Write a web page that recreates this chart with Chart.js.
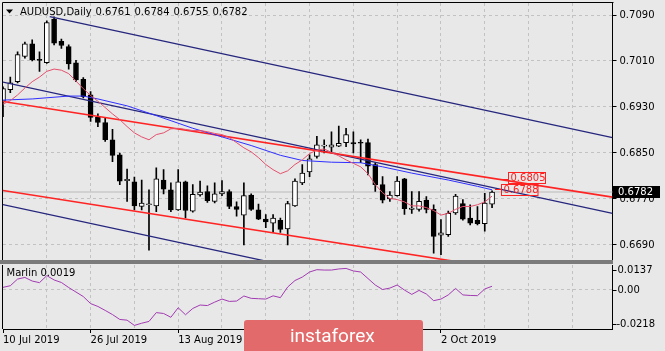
<!DOCTYPE html>
<html><head><meta charset="utf-8">
<script src="https://cdn.jsdelivr.net/npm/chart.js@4.4.1/dist/chart.umd.min.js"></script>
<style>
html,body{margin:0;padding:0;background:#e8e8e8;width:665px;height:351px;overflow:hidden;}
canvas{position:absolute;left:0;}
#main{top:0;}
#sub{top:262px;}
#sep{position:absolute;left:0;top:260px;width:613px;height:4px;background:#7b7b7b;}
#wm{position:absolute;left:244px;top:320px;width:179px;height:31px;background:#e36a6a;border-radius:3px 3px 0 0;overflow:hidden;}
#wmt{position:absolute;left:46px;top:0;line-height:31px;font-family:Roboto,'Open Sans',sans-serif;font-size:19px;color:#fff;}
</style></head><body>
<canvas id="main" width="665" height="262"></canvas>
<canvas id="sub" width="665" height="89"></canvas>
<div id="sep"></div>
<div id="wm"><span id="wmt">instaforex</span></div>
<script>
const FONT = "'DejaVu Sans', Verdana, sans-serif";
const symbolText = 'AUDUSD,Daily';
// daily candles, bar index 0 = 10 Jul 2019 ... 67 = 11 Oct 2019
const opens = [0.6940,0.6960,0.6974,0.7018,0.7040,0.7013,0.7007,0.7083,0.7044,0.7035,
0.7007,0.6978,0.6951,0.6912,0.6903,0.6873,0.6847,0.6802,0.6800,0.6757,
0.6760,0.6758,0.6803,0.6786,0.6751,0.6800,0.6749,0.6777,0.6783,0.6766,
0.6779,0.6783,0.6757,0.6742,0.6777,0.6751,0.6735,0.6728,0.6733,0.6718,
0.6758,0.6798,0.6817,0.6844,0.6862,0.6860,0.6862,0.6868,0.6868,0.6868,
0.6868,0.6830,0.6795,0.6770,0.6776,0.6805,0.6752,0.6752,0.6768,0.6752,
0.6707,0.6708,0.6746,0.6762,0.6737,0.6733,0.6727,0.6761];
const highs = [0.6965,0.6982,0.7026,0.7043,0.7047,0.7026,0.7080,0.7087,0.7048,0.7038,
0.7011,0.6981,0.6957,0.6918,0.6911,0.6891,0.6850,0.6822,0.6808,0.6803,
0.6786,0.6824,0.6821,0.6798,0.6821,0.6801,0.6795,0.6801,0.6793,0.6798,
0.6802,0.6786,0.6765,0.6798,0.6779,0.6761,0.6743,0.6743,0.6737,0.6766,
0.6805,0.6830,0.6847,0.6879,0.6873,0.6887,0.6897,0.6893,0.6887,0.6873,
0.6874,0.6833,0.6809,0.6783,0.6809,0.6806,0.6783,0.6783,0.6774,0.6760,
0.6734,0.6749,0.6778,0.6769,0.6760,0.6757,0.6780,0.6784];
const lows = [0.6913,0.6955,0.6972,0.7015,0.7010,0.6992,0.7006,0.7038,0.7032,0.6996,
0.6974,0.6946,0.6905,0.6896,0.6870,0.6835,0.6795,0.6766,0.6751,0.6751,
0.6681,0.6748,0.6779,0.6748,0.6750,0.6737,0.6747,0.6775,0.6764,0.6763,
0.6776,0.6753,0.6740,0.6690,0.6750,0.6734,0.6720,0.6712,0.6712,0.6690,
0.6757,0.6795,0.6809,0.6841,0.6850,0.6850,0.6861,0.6861,0.6850,0.6833,
0.6812,0.6783,0.6763,0.6766,0.6775,0.6743,0.6745,0.6749,0.6746,0.6676,
0.6673,0.6705,0.6743,0.6733,0.6725,0.6725,0.6714,0.6755];
const closes = [0.6962,0.6972,0.7021,0.7040,0.7012,0.7011,0.7077,0.7041,0.7037,0.7005,
0.6977,0.6948,0.6912,0.6903,0.6873,0.6846,0.6801,0.6804,0.6758,0.6763,
0.6761,0.6805,0.6787,0.6751,0.6800,0.6750,0.6778,0.6782,0.6767,0.6779,
0.6783,0.6757,0.6752,0.6776,0.6752,0.6735,0.6730,0.6737,0.6717,0.6762,
0.6801,0.6815,0.6840,0.6864,0.6863,0.6864,0.6867,0.6882,0.6866,0.6867,
0.6827,0.6795,0.6768,0.6777,0.6801,0.6753,0.6754,0.6766,0.6752,0.6705,
0.6711,0.6745,0.6775,0.6735,0.6728,0.6727,0.6763,0.6782];
// fast moving average (pink)
const pinkMA = [0.6935,0.6941,0.6951,0.6963,0.6974,0.6982,0.6992,0.6996,0.6994,0.6988,
0.6975,0.6962,0.6950,0.6940,0.6929,0.6918,0.6908,0.6896,0.6885,0.6878,
0.6873,0.6882,0.6885,0.6892,0.6893,0.6891,0.6889,0.6889,0.6887,0.6884,
0.6882,0.6877,0.6868,0.6859,0.6852,0.6842,0.6830,0.6821,0.6814,0.6819,
0.6830,0.6838,0.6849,0.6855,0.6857,0.6851,0.6845,0.6838,0.6832,0.6826,
0.6814,0.6795,0.6781,0.6771,0.6769,0.6765,0.6758,0.6758,0.6755,0.6750,
0.6742,0.6745,0.6752,0.6757,0.6757,0.6760,0.6765,0.6775];
// slow moving average (blue), read at these bars
const blueIdx = [0,4,9,11,13,17,21,26,30,34,38,41,45,49,52,56,61,65,67];
const blueMA  = [0.6942,0.6944,0.6949,0.6949,0.6944,0.6932,0.6915,0.6893,0.6878,0.6863,0.6846,0.6837,0.6834,0.6833,0.6826,0.6815,0.6803,0.6792,0.6786];
// Marlin oscillator
const marlin = [0.0013,0.0022,0.0059,0.0068,0.0048,0.0039,0.0078,0.0054,0.0040,0.0012,
-0.0013,-0.0038,-0.0077,-0.0093,-0.0115,-0.0138,-0.0165,-0.0169,-0.0198,-0.0186,
-0.0176,-0.0127,-0.0132,-0.0153,-0.0100,-0.0139,-0.0104,-0.0085,-0.0088,-0.0069,
-0.0052,-0.0065,-0.0063,-0.0035,-0.0048,-0.0050,-0.0052,-0.0034,-0.0044,0.0015,
0.0051,0.0070,0.0098,0.0111,0.0109,0.0109,0.0115,0.0118,0.0104,0.0098,
0.0062,0.0026,0.0001,0.0009,0.0026,-0.0002,-0.0026,-0.0004,-0.0024,-0.0061,
-0.0052,-0.0029,0.0007,-0.0029,-0.0032,-0.0033,0.0004,0.0019];
// trend lines: [barIndex, price] endpoints
const navyUpper = [[6.4,0.7087],[83.5,0.68766]];
const navyMid   = [[0,0.69733],[83.5,0.67451]];
const navyLower = [[0,0.67603],[83.5,0.65323]];
const redUpper  = [[0,0.69396],[83.5,0.67733]];
const redLower  = [[0,0.67848],[83.5,0.66185]];
const lineLabels = [0.6805, 0.6788];
// axes
const priceTicks = [0.6690,0.6770,0.6850,0.6930,0.7010,0.7090];
const priceMin = 0.666217, priceMax = 0.711087;
const oscMin = -0.0218, oscMax = 0.0137;
const oscTicks = [0.0137, 0, -0.0218];
const oscTickLabels = ['0.0137','0.00','-0.0218'];
const gridIdx = [0,6,12,18,24,30,36,42,48,54,60,66,72,78];
const labelIdx = [0,12,24,36,48,60];
const labelText = ['10 Jul 2019','26 Jul 2019','13 Aug 2019','29 Aug 2019','16 Sep 2019','2 Oct 2019'];
const X_MAX = 83.5;
const last = closes.length - 1;

const pts = a => a.map(p => ({x:p[0], y:p[1]}));
const lineDs = (data, color, width, order) => ({type:'line', data, borderColor:color, borderWidth:width, pointRadius:0, tension:0, fill:false, clip:0, order});
const GRID = '#c2c2c2';

const mainOverlay = {
  id:'mainOverlay',
  afterDraw(chart){
    const {ctx, chartArea:a} = chart; const xs = chart.scales.x, ys = chart.scales.y;
    ctx.save();
    // frame left/top
    ctx.strokeStyle='#000'; ctx.lineWidth=1; ctx.beginPath();
    ctx.moveTo(2.5, a.bottom); ctx.lineTo(2.5, 2.5); ctx.lineTo(Math.round(a.right)+0.5, 2.5); ctx.stroke();
    // title
    ctx.fillStyle='#000'; ctx.font='10px '+FONT; ctx.textBaseline='middle'; ctx.textAlign='left';
    ctx.beginPath(); ctx.moveTo(6,9.5); ctx.lineTo(13,9.5); ctx.lineTo(9.5,13.5); ctx.closePath(); ctx.fill();
    ctx.fillText(symbolText, 20, 12);
    [opens[last], highs[last], lows[last], closes[last]].forEach((v,i)=>ctx.fillText(v.toFixed(4), 95.5+i*39, 12));
    // trend line price labels
    const xb = xs.getPixelForValue(last);
    ctx.strokeStyle='#ff2020'; ctx.fillStyle='#ff2020';
    const cfg = [{dx0:8, dx:16, dy:-7, w:37},{dx0:3, dx:9, dy:-5, w:36.5}];
    lineLabels.forEach((v,i)=>{
      const yv = ys.getPixelForValue(v); const c = cfg[i];
      const bx = Math.round(xb + c.dx)+0.5, by = Math.round(yv + c.dy)+0.5;
      ctx.beginPath(); ctx.moveTo(xb + c.dx0, Math.round(yv)+0.5); ctx.lineTo(bx, Math.round(yv)+0.5); ctx.stroke();
      ctx.strokeRect(bx, by, c.w, 11);
      ctx.fillText(v.toFixed(4), bx+2, by+6);
    });
    // current price box
    const yc = ys.getPixelForValue(closes[last]);
    ctx.fillStyle='#000'; ctx.fillRect(613, Math.round(yc)-6, 47, 12);
    ctx.fillStyle='#fff'; ctx.fillText(closes[last].toFixed(4), 618, Math.round(yc));
    ctx.restore();
  }
};

new Chart(document.getElementById('main'), {
  type:'bar',
  data:{datasets:[
    lineDs([{x:0,y:closes[last]},{x:X_MAX,y:closes[last]}], '#cacaca', 1.5, 10),
    {type:'bar', data: lows.map((l,i)=>({x:i, y:[l, highs[i]]})), backgroundColor:'#000', borderWidth:0, barThickness:1, grouped:false, order:6},
    {type:'bar', data: opens.map((o,i)=>({x:i, y:[o, closes[i]]})),
      backgroundColor: c => (closes[c.dataIndex] >= opens[c.dataIndex]) ? '#ffffff' : '#000000',
      borderColor:'#000', borderWidth:1, borderSkipped:false, barThickness:5, minBarLength:1, grouped:false, order:5},
    lineDs(pts(redLower), '#ff2424', 1.6, 3),
    lineDs(pts(redUpper), '#ff2424', 1.6, 3),
    lineDs(pts(navyLower), '#26267e', 1.3, 3),
    lineDs(pts(navyMid), '#26267e', 1.3, 3),
    lineDs(pts(navyUpper), '#26267e', 1.3, 3),
    lineDs(blueIdx.map((k,i)=>({x:k, y:blueMA[i]})), '#2f2fff', 1, 2),
    lineDs(pinkMA.map((v,i)=>({x:i, y:v})), '#e4506c', 1, 1)
  ]},
  options:{
    responsive:false, animation:false,
    layout:{padding:{left:3, top:3, right:0, bottom:1}},
    plugins:{legend:{display:false}, tooltip:{enabled:false}},
    scales:{
      x:{type:'linear', min:0, max:X_MAX, offset:false,
        afterBuildTicks: s=>{ s.ticks = gridIdx.map(v=>({value:v})); },
        afterFit: s=>{ s.height = 0; s.paddingLeft=0; s.paddingRight=0; },
        ticks:{display:false},
        grid:{color: c => (c.tick && c.tick.value===0) ? 'rgba(0,0,0,0)' : GRID, drawTicks:false, offset:false},
        border:{display:false, dash:[3,3]}},
      y:{type:'linear', position:'right', min:priceMin, max:priceMax,
        afterBuildTicks: s=>{ s.ticks = priceTicks.map(v=>({value:v})); },
        afterFit: s=>{ s.width = 52.5; s.paddingTop=0; s.paddingBottom=0; },
        ticks:{color:'#000', font:{family:FONT, size:10}, padding:3, callback: v => Number(v).toFixed(4)},
        grid:{color:GRID, tickColor:'#000', tickLength:4},
        border:{display:true, color:'#000', width:1, dash:[3,3]}}
    }
  },
  plugins:[mainOverlay]
});

const subOverlay = {
  id:'subOverlay',
  afterDraw(chart){
    const {ctx, chartArea:a} = chart; const ys = chart.scales.y;
    ctx.save();
    ctx.strokeStyle='#000'; ctx.lineWidth=1; ctx.beginPath();
    ctx.moveTo(2.5, a.top); ctx.lineTo(2.5, a.bottom); ctx.stroke();
    ctx.fillStyle='#000'; ctx.font='10px '+FONT; ctx.textBaseline='middle'; ctx.textAlign='left';
    ctx.fillText('Marlin ' + marlin[last].toFixed(4), 6.5, 11);
    const shift = [5, 0, -5];
    oscTicks.forEach((v,i)=>{
      const y = Math.round(ys.getPixelForValue(v) + shift[i]) + 0.5;
      ctx.beginPath(); ctx.moveTo(a.right, y); ctx.lineTo(a.right+4, y); ctx.stroke();
      ctx.fillText(oscTickLabels[i], a.right + (v < 0 ? 4 : 5), y);
    });
    ctx.restore();
  }
};

new Chart(document.getElementById('sub'), {
  type:'line',
  data:{datasets:[{data: marlin.map((v,i)=>({x:i, y:v})), borderColor:'#a23bb2', borderWidth:1, pointRadius:0, tension:0, fill:false, clip:0}]},
  options:{
    responsive:false, animation:false,
    layout:{padding:{left:3, top:3, right:0, bottom:0}},
    plugins:{legend:{display:false}, tooltip:{enabled:false}},
    scales:{
      x:{type:'linear', min:0, max:X_MAX, offset:false,
        afterBuildTicks: s=>{ s.ticks = gridIdx.map(v=>({value:v})); },
        afterFit: s=>{ s.height = 22; s.paddingLeft=0; s.paddingRight=0; },
        ticks:{autoSkip:false, maxRotation:0, minRotation:0, align:'start', padding:1, color:'#000', font:{family:FONT, size:10},
          callback: v => { const j = labelIdx.indexOf(v); return j >= 0 ? labelText[j] : ''; }},
        grid:{color: c => (c.tick && c.tick.value===0) ? 'rgba(0,0,0,0)' : GRID,
          tickColor: c => (c.tick && labelIdx.includes(c.tick.value)) ? '#000' : 'rgba(0,0,0,0)', tickLength:4, offset:false},
        border:{display:true, color:'#000', width:1, dash:[3,3]}},
      y:{type:'linear', position:'right', min:oscMin, max:oscMax,
        afterBuildTicks: s=>{ s.ticks = [{value:0}]; },
        afterFit: s=>{ s.width = 52.5; s.paddingTop=0; s.paddingBottom=0; },
        ticks:{display:false},
        grid:{color:GRID, drawTicks:false},
        border:{display:true, color:'#000', width:1, dash:[3,3]}}
    }
  },
  plugins:[subOverlay]
});
</script>
</body></html>
